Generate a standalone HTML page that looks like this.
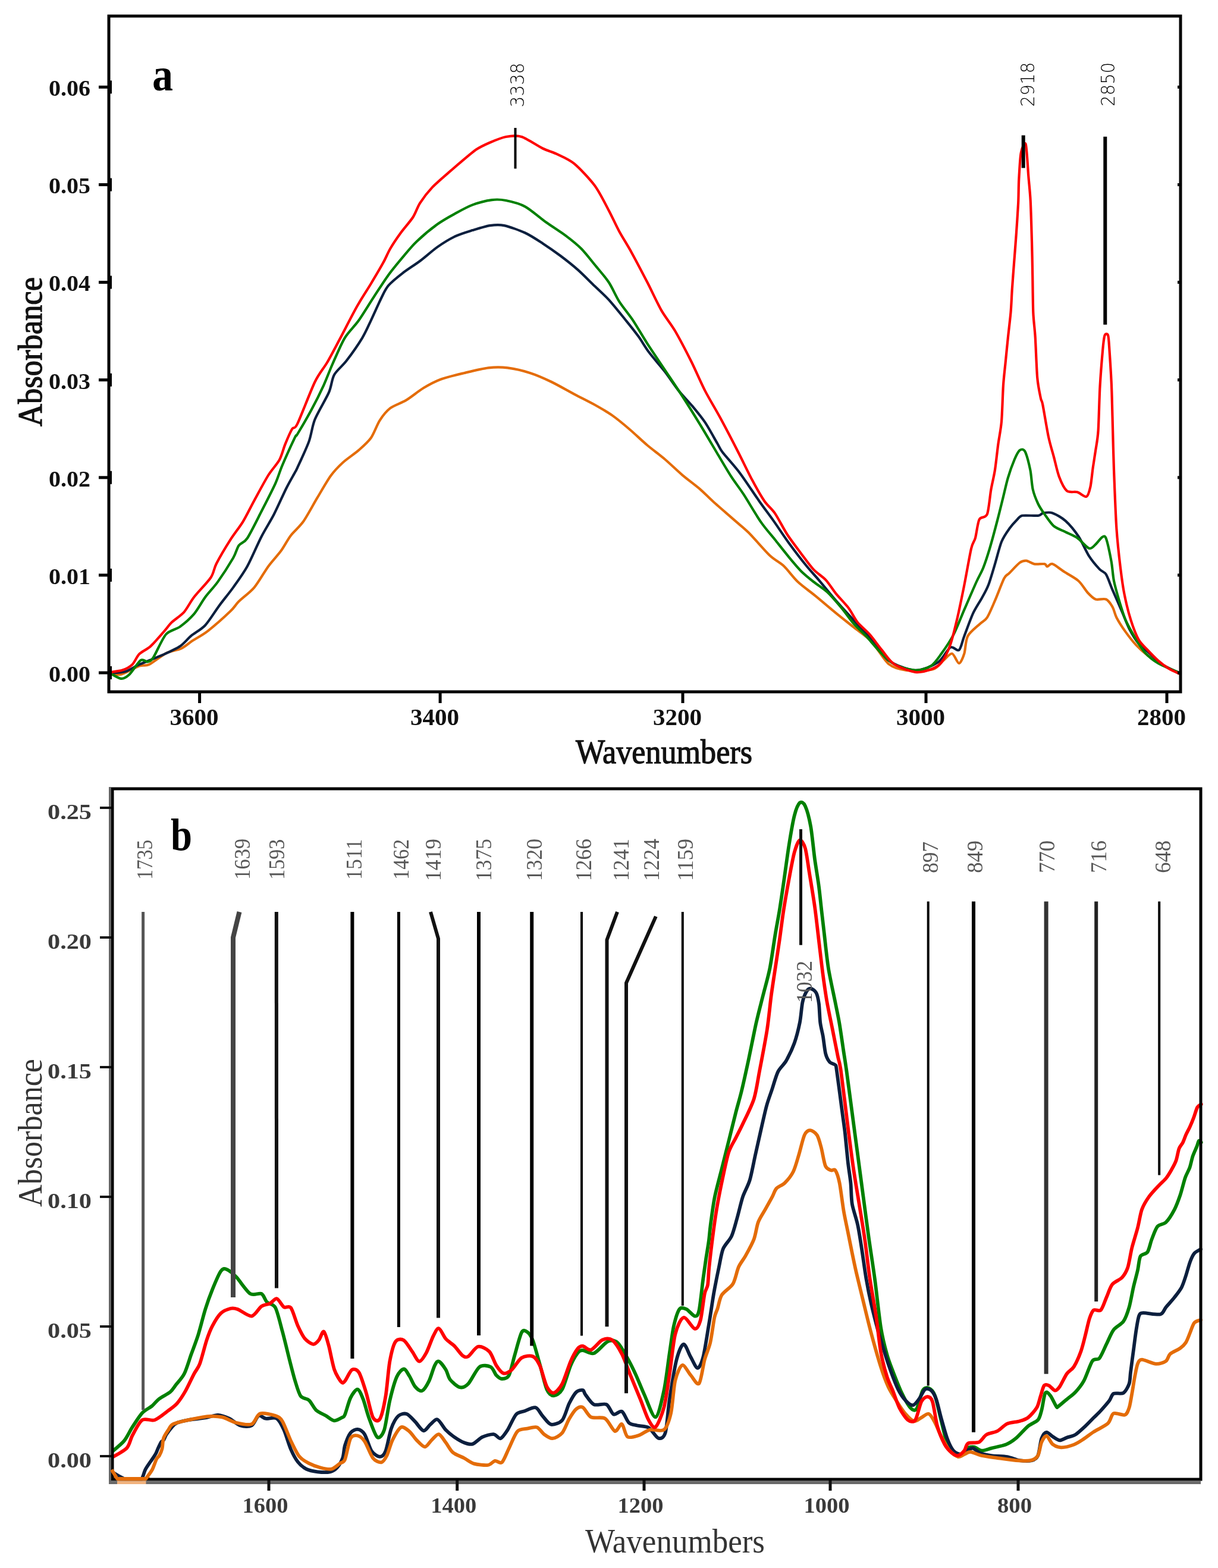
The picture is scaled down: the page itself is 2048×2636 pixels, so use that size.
<!DOCTYPE html><html><head><meta charset="utf-8"><title>FTIR spectra</title><style>html,body{margin:0;padding:0;background:#fff}body{width:2048px;height:2636px;overflow:hidden}svg{display:block}</style></head><body>
<svg width="2048" height="2636" viewBox="0 0 2048 2636">
<rect width="2048" height="2636" fill="#fff"/>
<g id="pa">
<g fill="none" stroke-width="4.2" stroke-linejoin="round" stroke-linecap="round">
<path d="M183.0 1131.0C183.2 1131.1 181.8 1131.0 184.7 1131.4C187.6 1131.8 196.5 1135.4 203.6 1133.7C210.7 1132.0 227.5 1122.0 234.2 1119.6C240.9 1117.2 244.3 1120.2 250.7 1117.2C257.1 1114.2 271.3 1102.2 279.0 1098.3C286.7 1094.4 298.5 1093.1 304.9 1090.1C311.3 1087.1 317.4 1081.3 323.8 1077.1C330.2 1072.9 340.6 1067.7 349.7 1060.6C358.8 1053.5 380.0 1034.7 387.4 1027.6C394.8 1020.5 395.9 1016.8 401.6 1011.1C407.3 1005.4 420.4 996.0 427.5 987.6C434.6 979.2 444.7 961.0 451.1 952.2C457.5 943.4 466.9 933.7 472.3 926.3C477.7 918.9 483.4 907.5 488.8 900.4C494.2 893.3 503.6 885.9 510.0 876.8C516.4 867.7 527.0 847.7 533.6 836.7C540.2 825.7 549.9 808.5 556.0 800.0C562.1 791.5 569.9 783.7 576.6 777.5C583.3 771.3 596.4 762.8 603.1 756.9C609.8 751.0 618.6 743.4 623.7 736.2C628.8 729.0 633.9 713.9 638.5 706.8C643.1 699.7 649.9 691.0 656.2 686.2C662.5 681.4 674.7 677.7 682.7 672.9C690.7 668.1 703.7 657.4 712.1 652.3C720.5 647.2 731.9 641.1 741.6 637.5C751.3 633.9 768.5 629.9 779.9 627.2C791.3 624.5 810.7 619.7 821.2 618.4C831.7 617.1 843.5 617.1 853.6 618.4C863.7 619.7 881.4 623.8 891.9 627.2C902.4 630.6 916.7 636.9 927.2 642.0C937.7 647.1 955.1 657.1 965.5 662.6C975.9 668.1 990.9 675.4 1000.0 680.5C1009.1 685.6 1021.1 692.5 1029.5 698.4C1037.9 704.3 1050.5 714.8 1058.9 722.0C1067.3 729.2 1080.0 741.4 1088.4 748.5C1096.8 755.6 1109.5 764.8 1117.9 772.0C1126.3 779.2 1138.9 791.4 1147.3 798.6C1155.7 805.8 1169.3 815.6 1176.8 822.1C1184.3 828.6 1191.6 836.5 1200.0 844.0C1208.4 851.5 1227.0 867.5 1235.4 874.9C1243.8 882.3 1250.5 887.1 1258.9 895.5C1267.3 903.9 1285.9 925.8 1294.3 933.8C1302.7 941.8 1311.2 945.2 1317.9 951.5C1324.6 957.8 1333.8 970.8 1341.4 978.0C1349.0 985.2 1361.6 994.0 1370.9 1001.6C1380.2 1009.2 1396.9 1023.5 1406.2 1031.1C1415.5 1038.7 1427.3 1047.9 1435.7 1054.6C1444.1 1061.3 1456.8 1069.4 1465.2 1078.2C1473.6 1087.0 1486.2 1109.6 1494.6 1116.5C1503.0 1123.4 1513.6 1125.5 1524.1 1126.8C1534.6 1128.1 1559.5 1127.6 1568.3 1125.3C1577.1 1123.0 1581.4 1114.4 1586.0 1110.6C1590.6 1106.8 1596.9 1098.2 1600.7 1098.8C1604.5 1099.4 1609.6 1115.0 1612.5 1115.0C1615.4 1115.0 1619.2 1105.3 1621.3 1098.8C1623.4 1092.3 1623.4 1076.6 1627.2 1069.4C1631.0 1062.2 1643.1 1053.2 1647.8 1048.7C1652.5 1044.2 1656.2 1043.8 1659.8 1038.2C1663.4 1032.6 1668.9 1019.1 1673.0 1009.7C1677.1 1000.3 1685.0 978.9 1688.4 972.3C1691.8 965.7 1693.3 967.3 1697.1 963.5C1700.9 959.7 1710.6 948.9 1714.7 945.9C1718.8 942.9 1722.2 942.3 1725.7 942.6C1729.2 942.9 1734.5 947.3 1738.9 948.1C1743.3 948.9 1753.4 947.5 1756.5 948.1C1759.6 948.7 1759.0 952.5 1760.9 952.5C1762.8 952.5 1765.6 946.8 1769.7 948.1C1773.8 949.4 1783.2 957.2 1789.5 961.3C1795.8 965.4 1808.0 971.7 1813.6 976.7C1819.2 981.7 1824.9 992.1 1829.0 996.5C1833.1 1000.9 1837.8 1005.9 1842.2 1007.5C1846.6 1009.1 1855.7 1005.6 1859.8 1007.5C1863.9 1009.4 1868.3 1016.3 1870.8 1020.7C1873.3 1025.1 1874.3 1032.2 1877.4 1038.2C1880.5 1044.2 1888.0 1055.8 1892.7 1062.4C1897.4 1069.0 1905.0 1078.7 1910.3 1084.4C1915.6 1090.1 1923.2 1097.0 1930.1 1102.0C1937.0 1107.0 1951.0 1115.2 1958.7 1119.6C1966.4 1124.0 1980.4 1130.8 1984.0 1132.7" stroke="#e46c08"/>
<path d="M183.0 1131.0C183.2 1131.1 180.8 1131.7 184.7 1131.4C188.6 1131.1 203.5 1131.0 210.6 1129.0C217.7 1127.0 225.1 1121.2 234.2 1117.2C243.3 1113.2 264.5 1105.1 274.3 1100.7C284.1 1096.3 295.9 1091.1 302.6 1086.6C309.3 1082.1 315.3 1074.0 321.4 1068.9C327.5 1063.8 338.3 1058.4 345.0 1051.2C351.7 1044.0 361.9 1027.3 368.6 1018.2C375.3 1009.1 385.4 997.0 392.1 987.6C398.8 978.2 409.0 964.3 415.7 952.2C422.4 940.1 432.9 915.2 439.3 902.7C445.7 890.2 454.4 876.8 460.5 865.0C466.6 853.2 476.6 830.3 481.7 820.2C486.8 810.1 493.3 799.1 495.9 794.3C498.5 789.5 496.6 793.7 500.0 786.3C503.4 778.9 515.2 754.0 519.4 742.4C523.6 730.8 524.7 716.8 529.5 705.0C534.3 693.2 548.4 670.3 553.0 659.6C557.6 648.9 557.7 637.8 561.9 630.2C566.1 622.6 575.8 615.4 582.5 606.6C589.2 597.8 603.1 578.0 609.0 568.3C614.9 558.6 619.1 548.5 623.7 538.8C628.3 529.1 637.2 508.9 641.4 500.5C645.6 492.1 648.1 485.8 653.2 479.9C658.3 474.0 669.2 465.2 676.8 459.3C684.4 453.4 697.8 445.0 706.2 438.7C714.6 432.4 727.3 421.0 735.7 415.1C744.1 409.2 756.8 401.4 765.2 397.4C773.6 393.4 786.2 389.7 794.6 387.1C803.0 384.5 816.5 380.2 824.1 379.1C831.7 378.0 839.3 377.3 847.7 379.1C856.1 380.9 873.7 387.2 883.0 391.5C892.3 395.8 904.1 403.7 912.5 409.2C920.9 414.7 933.6 423.5 942.0 429.8C950.4 436.1 963.1 446.1 971.4 453.4C979.7 460.7 992.5 473.8 1000.0 481.0C1007.5 488.2 1016.0 495.6 1023.6 503.9C1031.2 512.2 1045.8 530.5 1053.0 539.3C1060.2 548.1 1068.2 558.2 1073.7 565.8C1079.2 573.4 1085.0 583.9 1091.3 592.3C1097.6 600.7 1110.7 615.4 1117.9 624.7C1125.1 634.0 1134.7 648.7 1141.4 657.1C1148.1 665.5 1158.7 676.1 1165.0 683.7C1171.3 691.3 1179.7 701.4 1185.6 710.2C1191.5 719.0 1202.0 738.4 1206.2 745.5C1210.4 752.6 1209.3 752.9 1214.7 760.0C1220.1 767.1 1235.4 783.6 1244.2 795.4C1253.0 807.2 1268.6 831.1 1276.6 842.5C1284.6 853.9 1293.0 864.8 1300.2 874.9C1307.4 885.0 1318.7 902.3 1326.7 913.2C1334.7 924.1 1349.0 942.7 1356.2 951.5C1363.4 960.3 1369.7 966.7 1376.8 975.1C1383.9 983.5 1397.8 1000.7 1406.2 1010.4C1414.6 1020.1 1427.3 1033.6 1435.7 1042.9C1444.1 1052.2 1456.8 1065.6 1465.2 1075.3C1473.6 1085.0 1484.1 1103.2 1494.6 1110.6C1505.1 1118.0 1527.0 1126.4 1538.8 1126.8C1550.6 1127.2 1568.7 1119.1 1577.1 1113.6C1585.5 1108.1 1592.7 1091.5 1597.8 1088.5C1602.9 1085.5 1609.1 1095.6 1612.5 1092.9C1615.9 1090.2 1617.9 1078.2 1621.3 1069.4C1624.7 1060.6 1631.9 1040.3 1636.1 1031.1C1640.3 1021.9 1647.3 1012.1 1651.0 1005.3C1654.7 998.5 1658.9 991.5 1662.0 983.3C1665.1 975.1 1669.9 958.5 1673.0 948.1C1676.1 937.7 1680.6 919.3 1684.0 910.8C1687.4 902.3 1693.3 894.1 1697.1 888.8C1700.9 883.5 1707.2 876.5 1710.3 873.4C1713.4 870.3 1714.1 867.7 1719.1 866.8C1724.1 865.9 1740.5 867.4 1745.5 866.8C1750.5 866.2 1750.8 863.0 1754.3 862.4C1757.8 861.8 1764.4 860.5 1769.7 862.4C1775.0 864.3 1785.3 869.9 1791.6 875.6C1797.9 881.3 1807.9 893.5 1813.6 902.0C1819.3 910.5 1826.2 927.1 1831.2 934.9C1836.2 942.7 1844.7 952.5 1848.8 956.9C1852.9 961.3 1856.7 960.7 1859.8 965.7C1862.9 970.7 1867.0 983.3 1870.8 992.1C1874.6 1000.9 1882.1 1017.9 1886.2 1027.3C1890.3 1036.7 1895.2 1050.2 1899.3 1058.0C1903.4 1065.8 1910.0 1076.5 1914.7 1082.2C1919.4 1087.9 1926.6 1092.6 1932.3 1097.6C1938.0 1102.6 1946.9 1112.6 1954.3 1117.4C1961.7 1122.2 1979.8 1129.5 1984.0 1131.5" stroke="#0c1f3e"/>
<path d="M183.0 1131.0C183.2 1131.1 181.8 1130.0 184.7 1131.4C187.6 1132.8 198.9 1140.5 203.6 1140.8C208.3 1141.1 213.0 1138.1 217.7 1133.7C222.4 1129.3 232.2 1113.1 236.6 1110.1C241.0 1107.1 245.4 1113.2 248.4 1112.5C251.4 1111.8 253.4 1112.0 257.8 1105.4C262.2 1098.8 272.6 1073.9 279.0 1066.5C285.4 1059.1 295.9 1058.5 302.6 1053.6C309.3 1048.7 320.0 1039.5 326.1 1032.4C332.2 1025.3 339.3 1011.8 345.0 1004.0C350.7 996.2 359.5 987.5 366.2 978.1C372.9 968.7 387.0 946.7 392.1 938.0C397.2 929.3 398.2 921.6 401.6 916.9C405.0 912.2 410.3 913.1 415.7 905.0C421.1 896.9 432.6 873.4 439.3 860.3C446.0 847.2 457.9 824.2 462.9 813.1C467.9 802.0 469.9 793.6 474.6 782.5C479.3 771.4 492.3 742.9 495.9 735.4C499.5 727.9 496.0 736.6 500.0 730.0C504.0 723.4 517.3 700.8 523.6 689.1C529.9 677.4 539.2 658.7 544.2 647.8C549.2 636.9 553.8 623.9 558.9 612.5C564.0 601.1 573.3 578.8 579.6 568.3C585.9 557.8 596.0 548.9 603.1 538.8C610.2 528.7 622.4 508.5 629.6 497.6C636.8 486.7 646.5 471.5 653.2 462.2C659.9 452.9 670.1 440.8 676.8 432.8C683.5 424.8 692.0 414.2 700.4 406.2C708.8 398.2 726.4 383.5 735.7 376.8C745.0 370.1 756.8 363.7 765.2 359.1C773.6 354.5 785.8 347.7 794.6 344.4C803.4 341.1 819.0 337.2 827.0 336.1C835.0 335.0 842.6 335.4 850.6 337.0C858.6 338.6 873.3 342.0 883.0 347.3C892.7 352.6 908.7 366.9 918.4 373.8C928.1 380.7 942.4 389.6 950.8 395.9C959.2 402.2 970.3 411.0 977.3 418.0C984.3 425.0 993.4 436.9 1000.0 445.0C1006.6 453.1 1017.7 465.7 1023.6 474.5C1029.5 483.3 1035.3 497.6 1041.2 506.9C1047.1 516.2 1058.1 529.2 1064.8 539.3C1071.5 549.4 1080.8 565.8 1088.4 577.6C1096.0 589.4 1109.5 609.2 1117.9 621.8C1126.3 634.4 1138.9 653.0 1147.3 666.0C1155.7 679.0 1168.4 699.4 1176.8 713.1C1185.2 726.8 1198.4 749.4 1205.9 762.0C1213.4 774.6 1223.2 791.4 1229.5 801.2C1235.8 811.0 1242.9 819.7 1250.1 830.7C1257.3 841.7 1272.0 867.0 1279.6 877.9C1287.2 888.8 1296.4 898.9 1303.1 907.3C1309.8 915.7 1320.4 929.2 1326.7 936.8C1333.0 944.4 1341.4 954.5 1347.3 960.4C1353.2 966.3 1361.6 973.0 1367.9 978.0C1374.2 983.0 1384.8 989.4 1391.5 995.7C1398.2 1002.0 1408.8 1014.6 1415.1 1022.2C1421.4 1029.8 1429.8 1042.0 1435.7 1048.7C1441.6 1055.4 1450.0 1062.7 1456.3 1069.4C1462.6 1076.1 1473.2 1089.2 1479.9 1095.9C1486.6 1102.6 1495.1 1112.1 1503.5 1116.5C1511.9 1120.9 1530.0 1126.4 1538.8 1126.8C1547.6 1127.2 1559.0 1123.5 1565.3 1119.5C1571.6 1115.5 1577.5 1106.4 1583.0 1098.8C1588.5 1091.2 1598.1 1076.9 1603.6 1066.4C1609.1 1055.9 1615.8 1037.8 1621.3 1025.2C1626.8 1012.6 1637.3 988.1 1641.9 978.0C1646.5 967.9 1650.0 962.7 1653.2 954.7C1656.4 946.7 1660.7 933.4 1664.2 921.8C1667.7 910.2 1674.3 885.3 1677.4 873.4C1680.5 861.5 1683.7 848.2 1686.2 838.2C1688.7 828.2 1692.1 812.5 1694.9 803.1C1697.7 793.7 1703.1 778.9 1705.9 772.3C1708.7 765.7 1712.2 758.8 1714.7 756.9C1717.2 755.0 1721.0 754.4 1723.5 759.1C1726.0 763.8 1730.4 780.8 1732.3 789.9C1734.2 799.0 1734.8 814.7 1736.7 822.9C1738.6 831.1 1742.7 841.0 1745.5 847.0C1748.3 853.0 1752.7 859.3 1756.5 864.6C1760.3 869.9 1766.9 880.2 1771.9 884.4C1776.9 888.6 1786.0 891.5 1791.6 894.3C1797.2 897.1 1805.7 900.3 1811.4 904.2C1817.1 908.1 1826.8 920.2 1831.2 921.8C1835.6 923.4 1839.1 917.9 1842.2 915.2C1845.3 912.5 1850.7 904.5 1853.2 903.1C1855.7 901.7 1857.6 899.5 1859.8 905.3C1862.0 911.1 1866.7 933.5 1868.6 943.7C1870.5 953.9 1871.1 967.3 1873.0 976.7C1874.9 986.1 1879.0 1000.3 1881.8 1009.7C1884.6 1019.1 1888.9 1033.8 1892.7 1042.6C1896.5 1051.4 1903.4 1063.3 1908.1 1071.2C1912.8 1079.1 1920.0 1091.3 1925.7 1097.6C1931.4 1103.9 1939.4 1110.4 1947.7 1115.2C1956.0 1120.0 1978.8 1129.2 1984.0 1131.5" stroke="#008000"/>
<path d="M183.0 1131.0C183.2 1130.9 181.4 1130.8 184.7 1130.2C188.0 1129.6 200.6 1128.5 206.0 1126.6C211.4 1124.7 218.4 1121.1 222.4 1117.2C226.4 1113.3 229.8 1103.9 234.2 1099.5C238.6 1095.1 246.9 1092.2 253.0 1086.6C259.1 1081.0 271.5 1066.3 276.6 1060.6C281.7 1054.9 283.7 1051.0 288.4 1046.5C293.1 1042.0 304.2 1034.9 309.6 1028.8C315.0 1022.7 319.7 1012.3 326.1 1004.0C332.5 995.7 349.0 979.1 354.4 971.0C359.8 962.9 359.2 956.6 363.9 947.5C368.6 938.4 381.0 917.5 387.4 907.4C393.8 897.3 402.9 886.2 408.6 876.8C414.3 867.4 421.4 852.5 427.5 841.4C433.6 830.3 445.0 808.8 451.1 799.0C457.2 789.2 465.9 780.4 469.9 773.0C473.9 765.6 476.4 754.5 479.4 747.1C482.4 739.7 488.2 726.1 491.1 721.2C494.0 716.3 494.5 724.0 500.0 712.7C505.5 701.4 522.4 656.7 529.5 642.0C536.6 627.3 544.1 619.6 550.0 609.5C555.9 599.4 563.5 584.7 570.7 571.2C577.9 557.7 592.6 528.8 600.2 515.3C607.8 501.8 617.4 487.5 623.7 477.0C630.0 466.5 639.8 450.0 644.4 441.6C649.0 433.2 652.0 425.2 656.2 418.0C660.4 410.8 668.3 399.1 673.8 391.5C679.3 383.9 689.9 372.2 694.5 365.0C699.1 357.8 701.6 348.6 706.2 341.4C710.8 334.2 719.7 322.5 726.9 314.9C734.1 307.3 749.1 294.7 756.3 288.4C763.5 282.1 770.7 276.0 777.0 270.7C783.3 265.4 793.8 256.1 800.5 251.6C807.2 247.1 816.9 242.6 824.1 239.5C831.3 236.4 843.0 231.4 850.6 230.0C858.2 228.6 868.3 227.2 877.1 230.0C885.9 232.8 904.1 245.4 912.5 249.5C920.9 253.6 928.5 255.2 936.1 258.9C943.7 262.6 956.4 267.5 965.5 275.1C974.6 282.7 991.7 300.8 1000.0 312.0C1008.3 323.2 1017.7 342.7 1023.6 353.7C1029.5 364.7 1035.7 378.9 1041.2 389.0C1046.7 399.1 1055.2 412.2 1061.9 424.4C1068.6 436.6 1081.2 460.6 1088.4 474.5C1095.6 488.4 1105.3 509.8 1112.0 521.6C1118.7 533.4 1128.4 544.8 1135.5 557.0C1142.6 569.2 1154.8 592.7 1162.0 607.0C1169.2 621.3 1178.4 643.2 1185.6 657.1C1192.8 671.0 1204.2 689.6 1212.1 704.3C1220.0 719.0 1233.7 745.3 1241.2 760.0C1248.7 774.7 1258.5 795.3 1264.8 807.1C1271.1 818.9 1279.9 834.5 1285.4 842.5C1290.9 850.5 1297.6 855.1 1303.1 863.1C1308.6 871.1 1317.4 888.8 1323.7 898.5C1330.0 908.2 1341.0 922.5 1347.3 930.9C1353.6 939.3 1362.0 951.1 1367.9 957.4C1373.8 963.7 1383.1 969.2 1388.6 975.1C1394.1 981.0 1400.7 992.0 1406.2 998.7C1411.7 1005.4 1421.8 1015.5 1426.9 1022.2C1432.0 1028.9 1436.6 1039.5 1441.6 1045.8C1446.6 1052.1 1456.3 1059.7 1462.2 1066.4C1468.1 1073.1 1477.0 1085.7 1482.9 1092.9C1488.8 1100.1 1495.5 1111.2 1503.5 1116.5C1511.5 1121.8 1530.0 1128.5 1538.8 1129.8C1547.6 1131.1 1559.0 1127.6 1565.3 1125.3C1571.6 1123.0 1578.4 1119.5 1583.0 1113.6C1587.6 1107.7 1594.0 1094.6 1597.8 1084.1C1601.6 1073.6 1606.1 1054.2 1609.5 1039.9C1612.9 1025.6 1617.9 1000.7 1621.3 983.9C1624.7 967.1 1630.4 933.4 1633.1 922.0C1635.8 910.6 1638.1 911.1 1640.0 904.2C1641.9 897.3 1643.8 879.1 1646.6 873.4C1649.4 867.7 1657.0 871.8 1659.8 864.6C1662.6 857.4 1664.5 833.6 1666.4 822.9C1668.3 812.2 1671.3 800.9 1673.0 789.9C1674.7 778.9 1676.9 757.5 1678.5 745.9C1680.1 734.3 1682.8 722.5 1684.0 708.6C1685.2 694.7 1686.0 662.5 1686.9 648.7C1687.8 634.9 1689.2 623.8 1690.4 612.0C1691.6 600.2 1693.7 578.7 1695.0 566.3C1696.3 553.9 1698.5 536.5 1699.5 525.1C1700.5 513.7 1701.0 498.3 1701.8 486.2C1702.6 474.1 1704.2 453.5 1705.2 440.4C1706.2 427.3 1707.7 408.7 1708.7 394.6C1709.7 380.5 1711.4 355.3 1712.1 341.9C1712.8 328.5 1712.6 312.8 1713.3 300.7C1714.0 288.6 1715.1 265.5 1716.7 257.2C1718.3 248.9 1722.9 236.8 1724.7 242.4C1726.5 248.0 1728.2 282.6 1729.3 296.2C1730.4 309.8 1731.9 321.7 1732.7 337.4C1733.5 353.1 1734.5 388.0 1735.0 406.0C1735.5 424.0 1735.9 446.3 1736.2 463.3C1736.5 480.3 1736.7 510.4 1737.3 525.1C1737.9 539.8 1739.7 550.6 1740.7 566.3C1741.7 582.0 1742.9 620.3 1744.2 635.0C1745.5 649.7 1748.6 662.9 1749.9 669.3C1751.2 675.7 1751.3 670.6 1753.2 680.0C1755.1 689.4 1760.4 722.3 1763.1 734.9C1765.8 747.5 1769.4 758.5 1771.9 767.9C1774.4 777.3 1777.6 792.7 1780.7 800.9C1783.8 809.1 1789.4 821.3 1793.8 825.1C1798.2 828.9 1806.7 825.9 1811.4 827.3C1816.1 828.7 1823.7 836.2 1826.8 834.9C1829.9 833.6 1831.8 825.6 1833.4 818.5C1835.0 811.4 1836.5 794.3 1837.8 785.5C1839.1 776.7 1840.9 765.7 1842.2 756.9C1843.5 748.1 1845.6 739.3 1846.6 724.0C1847.6 708.7 1848.4 669.3 1849.5 650.0C1850.6 630.7 1853.0 601.5 1854.1 589.2C1855.2 576.9 1856.2 567.6 1857.5 564.0C1858.8 560.4 1862.1 560.4 1863.2 564.0C1864.3 567.6 1864.7 577.4 1865.5 589.2C1866.3 601.0 1868.2 630.6 1868.9 646.4C1869.6 662.2 1869.9 679.5 1870.5 700.0C1871.1 720.5 1872.0 762.9 1873.0 789.9C1874.0 816.9 1875.8 865.3 1877.4 888.8C1879.0 912.3 1882.1 939.0 1884.0 954.7C1885.9 970.4 1888.0 986.1 1890.5 998.7C1893.0 1011.3 1898.0 1031.6 1901.5 1042.6C1905.0 1053.6 1910.6 1068.4 1914.7 1075.6C1918.8 1082.8 1925.4 1088.2 1930.1 1093.2C1934.8 1098.2 1942.7 1106.4 1947.7 1110.8C1952.7 1115.2 1960.1 1120.8 1965.3 1124.0C1970.5 1127.2 1981.3 1131.7 1984.0 1133.0" stroke="#ff0000"/>
</g>
<rect x="183" y="27" width="1802" height="1136" fill="none" stroke="#000" stroke-width="5"/>
<g stroke="#000" stroke-width="5">
<line x1="166" y1="1131.0" x2="184" y2="1131.0"/>
<line x1="1980" y1="1131.0" x2="1985" y2="1131.0"/>
<rect x="183" y="1120.0" width="5" height="22" stroke="none" fill="#000"/>
<line x1="166" y1="966.9" x2="184" y2="966.9"/>
<line x1="1980" y1="966.9" x2="1985" y2="966.9"/>
<rect x="183" y="955.9" width="5" height="22" stroke="none" fill="#000"/>
<line x1="166" y1="802.8" x2="184" y2="802.8"/>
<line x1="1980" y1="802.8" x2="1985" y2="802.8"/>
<rect x="183" y="791.8" width="5" height="22" stroke="none" fill="#000"/>
<line x1="166" y1="638.7" x2="184" y2="638.7"/>
<line x1="1980" y1="638.7" x2="1985" y2="638.7"/>
<rect x="183" y="627.7" width="5" height="22" stroke="none" fill="#000"/>
<line x1="166" y1="474.6" x2="184" y2="474.6"/>
<line x1="1980" y1="474.6" x2="1985" y2="474.6"/>
<rect x="183" y="463.6" width="5" height="22" stroke="none" fill="#000"/>
<line x1="166" y1="310.5" x2="184" y2="310.5"/>
<line x1="1980" y1="310.5" x2="1985" y2="310.5"/>
<rect x="183" y="299.5" width="5" height="22" stroke="none" fill="#000"/>
<line x1="166" y1="146.4" x2="184" y2="146.4"/>
<line x1="1980" y1="146.4" x2="1985" y2="146.4"/>
<rect x="183" y="135.4" width="5" height="22" stroke="none" fill="#000"/>
<line x1="335.6" y1="1163" x2="335.6" y2="1182"/>
<line x1="740.1" y1="1163" x2="740.1" y2="1182"/>
<line x1="1148.0" y1="1163" x2="1148.0" y2="1182"/>
<line x1="1557.0" y1="1163" x2="1557.0" y2="1182"/>
<line x1="1962.0" y1="1163" x2="1962.0" y2="1182"/>
</g>
<g font-family="Liberation Serif, serif" font-weight="bold" font-size="37" fill="#111">
<text x="152" y="1145.8" text-anchor="end" textLength="70" lengthAdjust="spacingAndGlyphs">0.00</text>
<text x="152" y="981.7" text-anchor="end" textLength="70" lengthAdjust="spacingAndGlyphs">0.01</text>
<text x="152" y="817.6" text-anchor="end" textLength="70" lengthAdjust="spacingAndGlyphs">0.02</text>
<text x="152" y="653.5" text-anchor="end" textLength="70" lengthAdjust="spacingAndGlyphs">0.03</text>
<text x="152" y="489.4" text-anchor="end" textLength="70" lengthAdjust="spacingAndGlyphs">0.04</text>
<text x="152" y="325.3" text-anchor="end" textLength="70" lengthAdjust="spacingAndGlyphs">0.05</text>
<text x="152" y="161.2" text-anchor="end" textLength="70" lengthAdjust="spacingAndGlyphs">0.06</text>
<text x="285.6" y="1219.2" font-size="40" textLength="82" lengthAdjust="spacingAndGlyphs">3600</text>
<text x="690.1" y="1219.2" font-size="40" textLength="82" lengthAdjust="spacingAndGlyphs">3400</text>
<text x="1098.0" y="1219.2" font-size="40" textLength="82" lengthAdjust="spacingAndGlyphs">3200</text>
<text x="1507.0" y="1219.2" font-size="40" textLength="82" lengthAdjust="spacingAndGlyphs">3000</text>
<text x="1912.0" y="1219.2" font-size="40" textLength="82" lengthAdjust="spacingAndGlyphs">2800</text>
</g>
<text x="968" y="1283" font-family="Liberation Serif, serif" font-size="57" textLength="297" lengthAdjust="spacingAndGlyphs" fill="#111" stroke="#111" stroke-width="1.3">Wavenumbers</text>
<text transform="translate(70 717) rotate(-90)" font-family="Liberation Serif, serif" font-size="58" textLength="251" lengthAdjust="spacingAndGlyphs" fill="#111" stroke="#111" stroke-width="1.3">Absorbance</text>
<text x="256" y="152" font-family="Liberation Serif, serif" font-weight="bold" font-size="78" textLength="35" lengthAdjust="spacingAndGlyphs" fill="#000">a</text>
<g font-family="DejaVu Sans, sans-serif" font-weight="200" font-size="31.5" fill="#000">
<text transform="translate(881.0 180.5) rotate(-90)" textLength="75" lengthAdjust="spacingAndGlyphs">3338</text>
<text transform="translate(1738.5 179.5) rotate(-90)" textLength="75" lengthAdjust="spacingAndGlyphs">2918</text>
<text transform="translate(1873.5 178.8) rotate(-90)" textLength="74" lengthAdjust="spacingAndGlyphs">2850</text>
</g>
<g stroke="#000">
<line x1="866.5" y1="215" x2="866.5" y2="283.5" stroke-width="4"/>
<line x1="1720.7" y1="227.5" x2="1720.7" y2="282.4" stroke-width="6"/>
<line x1="1858.3" y1="229.8" x2="1858.3" y2="545.7" stroke-width="6"/>
</g>
</g>
<g id="pb">
<g fill="none" stroke-width="5.8" stroke-linejoin="round" stroke-linecap="round">
<path d="M187.4 2441.3C190.4 2438.6 203.6 2428.5 208.6 2422.4C213.6 2416.3 218.3 2405.6 222.7 2398.9C227.1 2392.2 234.5 2380.4 239.2 2375.3C243.9 2370.2 251.7 2366.9 255.7 2363.5C259.7 2360.1 263.1 2355.1 267.5 2351.7C271.9 2348.3 282.4 2343.3 286.4 2339.9C290.4 2336.5 292.4 2332.5 295.8 2328.1C299.2 2323.7 306.2 2316.7 309.9 2309.3C313.6 2301.9 318.3 2285.7 321.7 2276.3C325.1 2266.9 330.1 2254.1 333.5 2243.3C336.9 2232.5 341.9 2211.7 345.3 2200.9C348.7 2190.1 353.4 2177.0 357.1 2167.9C360.8 2158.8 367.8 2142.1 371.2 2137.2C374.6 2132.3 376.9 2132.4 380.6 2133.7C384.3 2135.0 391.4 2140.7 397.1 2146.6C402.8 2152.5 414.6 2170.9 420.7 2174.9C426.8 2178.9 435.6 2172.9 439.6 2174.9C443.6 2176.9 445.6 2185.7 449.0 2189.1C452.4 2192.5 459.4 2191.4 463.1 2198.5C466.8 2205.6 471.5 2226.1 474.9 2238.6C478.3 2251.1 483.7 2273.9 486.7 2285.7C489.7 2297.5 493.4 2312.3 496.1 2321.1C498.8 2329.9 502.2 2342.3 505.6 2347.0C509.0 2351.7 516.0 2350.7 519.7 2354.1C523.4 2357.5 527.5 2366.9 531.5 2370.6C535.5 2374.3 543.6 2377.5 548.0 2380.0C552.4 2382.5 558.1 2388.0 562.1 2388.3C566.1 2388.6 573.7 2383.9 576.3 2382.4C578.9 2380.9 578.1 2382.7 580.0 2378.1C581.9 2373.5 586.4 2356.0 589.4 2349.9C592.4 2343.8 598.2 2335.4 601.2 2335.7C604.2 2336.0 607.9 2345.5 610.6 2352.2C613.3 2358.9 616.7 2373.8 620.1 2382.9C623.5 2392.0 630.5 2412.9 634.2 2415.9C637.9 2418.9 643.0 2412.9 646.0 2404.1C649.0 2395.3 652.4 2367.4 655.4 2354.6C658.4 2341.8 663.8 2322.1 667.2 2314.5C670.6 2306.9 676.0 2301.7 679.0 2301.5C682.0 2301.3 685.7 2309.1 688.4 2313.3C691.1 2317.5 694.9 2327.5 697.9 2331.0C700.9 2334.5 706.2 2339.4 709.6 2338.1C713.0 2336.8 718.4 2327.7 721.4 2321.6C724.4 2315.5 728.5 2300.3 730.9 2295.6C733.3 2290.9 735.2 2287.6 737.9 2288.6C740.6 2289.6 747.0 2298.3 749.7 2302.7C752.4 2307.1 753.4 2315.0 756.8 2319.2C760.2 2323.4 768.9 2331.2 773.3 2332.2C777.7 2333.2 782.7 2331.2 787.4 2326.3C792.1 2321.4 800.9 2302.0 806.3 2298.0C811.7 2294.0 821.1 2296.0 825.1 2298.0C829.1 2300.0 831.9 2309.2 834.6 2312.1C837.3 2315.0 841.0 2318.0 844.0 2318.0C847.0 2318.0 852.8 2317.7 855.8 2312.1C858.8 2306.5 862.2 2289.4 865.2 2279.1C868.2 2268.8 874.0 2245.9 877.0 2240.2C880.0 2234.5 883.7 2237.2 886.4 2239.1C889.1 2241.0 892.9 2245.5 895.9 2253.2C898.9 2260.9 904.2 2281.5 907.6 2293.3C911.0 2305.1 916.0 2328.1 919.4 2335.7C922.8 2343.3 927.5 2346.3 931.2 2346.3C934.9 2346.3 941.3 2342.9 945.3 2335.7C949.3 2328.5 955.8 2304.4 959.5 2295.6C963.2 2286.8 968.4 2278.1 971.3 2274.4C974.2 2270.7 976.1 2269.9 980.0 2270.0C983.9 2270.1 992.6 2277.2 998.6 2275.1C1004.6 2273.0 1016.4 2257.6 1022.1 2255.1C1027.8 2252.6 1033.9 2253.4 1038.6 2257.4C1043.3 2261.4 1050.7 2275.7 1055.1 2283.4C1059.5 2291.1 1065.3 2302.9 1069.3 2311.6C1073.3 2320.3 1078.7 2334.5 1083.4 2344.6C1088.1 2354.7 1097.6 2383.4 1102.3 2382.4C1107.0 2381.4 1113.0 2353.1 1116.4 2337.6C1119.8 2322.1 1123.5 2289.4 1125.9 2273.9C1128.3 2258.4 1130.5 2239.5 1132.9 2229.1C1135.3 2218.7 1139.4 2204.9 1142.4 2200.9C1145.4 2196.9 1150.4 2199.2 1154.1 2200.9C1157.8 2202.6 1165.3 2212.3 1168.3 2212.6C1171.3 2212.9 1173.4 2212.3 1175.4 2203.2C1177.4 2194.1 1180.7 2161.5 1182.4 2149.0C1184.1 2136.5 1185.7 2125.1 1187.1 2116.0C1188.5 2106.9 1190.8 2093.5 1191.9 2085.4C1193.0 2077.3 1193.3 2069.8 1194.7 2059.3C1196.1 2048.8 1199.1 2025.6 1201.8 2012.1C1204.5 1998.6 1210.2 1978.5 1213.6 1965.0C1217.0 1951.5 1222.0 1931.4 1225.4 1917.9C1228.8 1904.4 1234.1 1882.5 1237.1 1870.7C1240.1 1858.9 1243.6 1847.6 1246.6 1835.4C1249.6 1823.2 1254.2 1802.2 1257.8 1785.6C1261.4 1769.0 1268.0 1735.2 1271.6 1719.2C1275.2 1703.2 1279.7 1686.5 1283.0 1673.4C1286.3 1660.3 1291.6 1642.3 1294.5 1627.6C1297.4 1612.9 1301.3 1584.1 1303.6 1570.4C1305.9 1556.7 1308.5 1543.6 1310.5 1531.5C1312.5 1519.4 1315.1 1501.4 1317.4 1485.7C1319.7 1470.0 1323.9 1438.0 1326.5 1421.6C1329.1 1405.2 1333.1 1381.5 1335.7 1371.2C1338.3 1360.9 1342.2 1351.8 1344.8 1349.5C1347.4 1347.2 1351.4 1349.5 1354.0 1355.2C1356.6 1360.9 1360.9 1376.7 1363.2 1389.5C1365.5 1402.3 1368.0 1430.1 1370.0 1444.5C1372.0 1458.9 1375.3 1477.9 1376.9 1490.3C1378.5 1502.7 1380.2 1520.1 1381.5 1531.5C1382.8 1542.9 1384.4 1556.7 1386.0 1570.4C1387.6 1584.1 1390.3 1611.3 1392.9 1627.6C1395.5 1643.9 1401.8 1671.7 1404.4 1684.8C1407.0 1697.9 1409.2 1707.7 1411.2 1719.2C1413.2 1730.7 1416.4 1753.5 1418.1 1765.0C1419.8 1776.5 1421.3 1784.9 1423.4 1800.0C1425.5 1815.1 1430.1 1850.5 1432.8 1870.7C1435.5 1890.9 1439.5 1921.2 1442.2 1941.4C1444.9 1961.6 1448.9 1991.9 1451.6 2012.1C1454.3 2032.3 1458.3 2063.2 1461.1 2082.9C1463.9 2102.6 1468.0 2128.6 1470.9 2150.0C1473.8 2171.4 1478.2 2214.2 1481.2 2232.5C1484.2 2250.8 1488.6 2267.3 1491.6 2277.9C1494.6 2288.5 1498.4 2297.6 1501.9 2306.7C1505.4 2315.8 1512.2 2333.2 1516.3 2341.8C1520.4 2350.4 1527.2 2362.8 1530.7 2366.6C1534.2 2370.4 1538.1 2372.7 1541.1 2368.6C1544.1 2364.5 1548.5 2342.7 1551.4 2337.7C1554.3 2332.7 1558.8 2332.4 1561.7 2333.6C1564.6 2334.8 1569.1 2338.2 1572.0 2345.9C1574.9 2353.6 1579.4 2375.7 1582.3 2387.2C1585.2 2398.7 1589.4 2418.4 1592.6 2426.4C1595.8 2434.4 1601.5 2440.3 1605.0 2442.9C1608.5 2445.5 1614.5 2446.1 1617.4 2444.9C1620.3 2443.7 1622.7 2436.4 1625.6 2434.6C1628.5 2432.8 1634.5 2432.0 1638.0 2432.6C1641.5 2433.2 1646.3 2438.4 1650.4 2438.7C1654.5 2439.0 1661.0 2436.1 1666.9 2434.6C1672.8 2433.1 1685.7 2430.8 1691.6 2428.4C1697.5 2426.0 1702.8 2422.5 1708.1 2418.1C1713.4 2413.7 1723.4 2401.9 1728.7 2397.5C1734.0 2393.1 1742.0 2391.0 1745.2 2387.2C1748.4 2383.4 1749.6 2377.2 1751.4 2370.7C1753.2 2364.2 1755.5 2345.3 1757.6 2341.8C1759.7 2338.3 1763.2 2342.7 1765.9 2345.9C1768.6 2349.1 1774.3 2361.9 1776.2 2364.5C1778.1 2367.1 1777.0 2366.0 1779.5 2364.3C1782.0 2362.6 1789.7 2355.8 1793.8 2352.4C1797.9 2349.0 1804.0 2344.9 1808.1 2340.5C1812.2 2336.1 1818.3 2328.9 1822.4 2321.4C1826.5 2313.9 1833.0 2293.5 1836.7 2288.1C1840.4 2282.7 1845.2 2287.4 1848.6 2283.3C1852.0 2279.2 1857.1 2266.3 1860.5 2259.5C1863.9 2252.7 1868.3 2241.1 1872.4 2235.7C1876.5 2230.3 1885.3 2226.8 1889.0 2221.4C1892.7 2216.0 1896.2 2205.8 1898.6 2197.6C1901.0 2189.4 1903.7 2173.1 1905.7 2164.3C1907.7 2155.5 1911.2 2143.2 1912.9 2135.7C1914.6 2128.2 1915.2 2116.3 1917.6 2111.9C1920.0 2107.5 1926.8 2108.9 1929.5 2104.8C1932.2 2100.7 1934.3 2089.4 1936.7 2083.3C1939.1 2077.2 1942.8 2066.0 1946.2 2061.9C1949.6 2057.8 1956.4 2058.9 1960.5 2054.8C1964.6 2050.7 1971.4 2039.8 1974.8 2033.3C1978.2 2026.8 1981.7 2017.1 1984.3 2009.5C1986.9 2001.9 1990.5 1986.7 1992.8 1980.0C1995.1 1973.3 1998.7 1968.0 2000.5 1962.8C2002.3 1957.6 2003.9 1948.5 2005.6 1943.6C2007.3 1938.7 2010.6 1931.9 2012.1 1928.2C2013.6 1924.5 2014.8 1919.0 2015.9 1917.9C2017.0 1916.8 2019.2 1920.1 2019.7 1920.5" stroke="#008000"/>
<path d="M187.4 2474.0C189.1 2475.0 196.8 2479.7 199.5 2481.3C202.2 2482.9 204.4 2484.0 206.6 2485.0C208.8 2486.0 210.8 2487.6 215.0 2488.0C219.2 2488.4 232.4 2488.8 236.0 2488.0C239.6 2487.2 238.8 2485.0 240.0 2482.5C241.2 2480.0 242.8 2473.7 244.3 2470.7C245.8 2467.7 248.5 2463.8 250.2 2461.3C251.9 2458.8 254.3 2455.5 256.0 2453.0C257.7 2450.5 260.6 2446.1 262.0 2443.6C263.4 2441.1 264.2 2438.3 265.5 2435.4C266.8 2432.5 270.0 2425.6 271.4 2423.6C272.8 2421.6 273.8 2422.9 275.0 2421.2C276.2 2419.5 277.5 2415.1 279.6 2411.8C281.7 2408.5 287.4 2400.9 290.0 2398.0C292.6 2395.1 294.2 2393.4 298.1 2391.8C302.0 2390.2 310.3 2388.3 317.0 2387.1C323.7 2385.9 338.2 2384.7 345.3 2383.5C352.4 2382.3 360.8 2378.6 366.5 2378.8C372.2 2379.0 380.0 2382.2 385.4 2384.7C390.8 2387.2 398.8 2394.8 404.2 2396.5C409.6 2398.2 418.7 2398.9 423.1 2396.5C427.5 2394.1 431.5 2381.7 434.9 2380.0C438.3 2378.3 442.2 2384.0 446.6 2384.7C451.0 2385.4 461.1 2382.0 465.5 2384.7C469.9 2387.4 473.9 2396.2 477.3 2403.6C480.7 2411.0 485.7 2428.9 489.1 2436.6C492.5 2444.3 497.2 2453.1 500.9 2457.8C504.6 2462.5 510.3 2467.2 515.0 2469.6C519.7 2472.0 528.2 2473.6 533.9 2474.3C539.6 2475.0 550.4 2475.3 555.1 2474.3C559.8 2473.3 563.9 2470.6 566.9 2467.2C569.9 2463.8 574.4 2456.0 576.3 2450.7C578.2 2445.4 578.1 2436.0 580.0 2430.0C581.9 2424.0 586.4 2412.7 589.4 2408.8C592.4 2404.9 597.8 2402.6 601.2 2402.9C604.6 2403.2 609.6 2405.9 613.0 2411.1C616.4 2416.3 621.1 2434.0 624.8 2439.4C628.5 2444.8 635.5 2448.9 638.9 2448.9C642.3 2448.9 645.7 2446.1 648.4 2439.4C651.1 2432.7 654.8 2410.1 657.8 2401.7C660.8 2393.3 665.9 2384.0 669.6 2380.5C673.3 2377.0 679.7 2375.7 683.7 2377.0C687.7 2378.3 693.9 2385.9 697.9 2389.9C701.9 2393.9 708.3 2404.5 712.0 2405.2C715.7 2405.9 720.4 2397.3 723.8 2394.6C727.2 2391.9 731.9 2385.0 735.6 2386.4C739.3 2387.8 745.7 2399.9 749.7 2404.1C753.7 2408.3 759.5 2412.9 763.9 2415.9C768.3 2418.9 776.0 2423.6 780.4 2425.3C784.8 2427.0 790.1 2428.9 794.5 2427.6C798.9 2426.3 805.9 2418.3 811.0 2415.9C816.1 2413.5 825.5 2410.8 829.9 2411.1C834.3 2411.4 838.2 2419.2 841.6 2418.2C845.0 2417.2 849.7 2409.8 853.4 2404.1C857.1 2398.4 863.6 2382.6 867.6 2378.1C871.6 2373.6 877.0 2374.0 881.7 2372.3C886.4 2370.6 896.2 2365.1 900.6 2366.3C905.0 2367.5 908.7 2376.5 912.4 2380.5C916.1 2384.5 921.8 2393.6 926.5 2394.6C931.2 2395.6 940.9 2392.6 945.3 2387.6C949.7 2382.6 953.7 2366.0 957.1 2359.3C960.5 2352.6 965.6 2343.6 968.9 2340.4C972.2 2337.2 977.8 2336.4 980.0 2337.0C982.2 2337.6 981.7 2341.2 984.4 2344.6C987.1 2348.0 993.5 2358.7 998.6 2361.1C1003.7 2363.5 1015.1 2358.7 1019.8 2361.1C1024.5 2363.5 1027.9 2375.9 1031.6 2377.6C1035.3 2379.3 1042.0 2370.9 1045.7 2372.9C1049.4 2374.9 1053.8 2388.4 1057.5 2391.8C1061.2 2395.2 1066.9 2395.3 1071.6 2396.5C1076.3 2397.7 1085.4 2397.0 1090.5 2400.0C1095.6 2403.0 1103.0 2416.5 1107.0 2417.7C1111.0 2418.9 1116.1 2417.7 1118.8 2408.3C1121.5 2398.9 1123.2 2369.2 1125.9 2351.7C1128.6 2334.2 1134.2 2298.8 1137.6 2285.7C1141.0 2272.6 1146.0 2260.5 1149.4 2259.8C1152.8 2259.1 1157.8 2275.3 1161.2 2281.0C1164.6 2286.7 1170.0 2299.9 1173.0 2299.9C1176.0 2299.9 1179.7 2291.4 1182.4 2281.0C1185.1 2270.6 1189.5 2240.9 1191.9 2226.8C1194.3 2212.7 1197.5 2190.8 1198.9 2182.0C1200.3 2173.2 1200.4 2172.8 1201.8 2165.4C1203.2 2158.0 1206.9 2139.4 1208.9 2130.0C1210.9 2120.6 1212.9 2106.8 1215.9 2099.4C1218.9 2092.0 1226.7 2085.5 1230.1 2078.1C1233.5 2070.7 1236.8 2056.9 1239.5 2047.5C1242.2 2038.1 1245.9 2021.2 1248.9 2012.1C1251.9 2003.0 1257.7 1994.0 1260.7 1983.9C1263.7 1973.8 1267.4 1953.5 1270.1 1941.4C1272.8 1929.3 1276.9 1910.8 1279.6 1899.0C1282.3 1887.2 1286.3 1868.7 1289.0 1858.9C1291.7 1849.1 1295.7 1838.8 1298.4 1830.6C1301.1 1822.4 1304.8 1808.4 1308.2 1801.6C1311.6 1794.8 1318.0 1790.2 1321.9 1783.3C1325.8 1776.4 1332.4 1762.7 1335.7 1753.5C1339.0 1744.3 1342.8 1729.0 1344.8 1719.2C1346.8 1709.4 1347.8 1692.3 1349.4 1684.8C1351.0 1677.3 1354.3 1669.8 1356.3 1666.5C1358.3 1663.2 1360.9 1661.7 1363.2 1662.0C1365.5 1662.3 1370.3 1665.2 1372.3 1668.8C1374.3 1672.4 1375.9 1679.9 1376.9 1687.1C1377.9 1694.3 1378.2 1711.3 1379.2 1719.2C1380.2 1727.1 1382.5 1734.6 1383.8 1742.1C1385.1 1749.6 1386.7 1765.6 1388.3 1771.8C1389.9 1778.0 1392.9 1783.0 1395.2 1785.6C1397.5 1788.2 1402.7 1788.1 1404.4 1790.2C1406.1 1792.3 1405.2 1788.5 1406.9 1800.0C1408.6 1811.5 1414.3 1855.5 1416.3 1870.7C1418.3 1885.9 1419.7 1894.3 1421.0 1906.1C1422.3 1917.9 1424.4 1941.4 1425.7 1953.2C1427.0 1965.0 1429.4 1978.5 1430.4 1988.6C1431.4 1998.7 1431.1 2013.8 1432.8 2023.9C1434.5 2034.0 1439.8 2048.2 1442.2 2059.3C1444.6 2070.4 1447.3 2088.7 1449.3 2101.7C1451.3 2114.7 1454.3 2137.2 1456.5 2150.0C1458.7 2162.8 1462.0 2179.4 1464.7 2191.2C1467.4 2203.0 1471.9 2220.7 1475.1 2232.5C1478.3 2244.3 1484.2 2263.4 1487.4 2273.7C1490.6 2284.0 1494.5 2295.9 1497.7 2304.7C1500.9 2313.5 1506.6 2328.5 1510.1 2335.6C1513.6 2342.7 1519.0 2350.4 1522.5 2354.2C1526.0 2358.0 1531.7 2362.7 1534.9 2362.4C1538.1 2362.1 1542.3 2355.9 1545.2 2352.1C1548.1 2348.3 1552.6 2337.7 1555.5 2335.6C1558.4 2333.5 1563.1 2335.3 1565.8 2337.7C1568.5 2340.1 1571.7 2345.6 1574.1 2352.1C1576.5 2358.6 1579.7 2373.7 1582.3 2383.1C1584.9 2392.5 1589.7 2410.2 1592.6 2418.1C1595.5 2426.0 1599.7 2434.9 1602.9 2438.7C1606.1 2442.5 1612.1 2444.9 1615.3 2444.9C1618.5 2444.9 1622.7 2440.2 1625.6 2438.7C1628.5 2437.2 1632.7 2434.0 1635.9 2434.6C1639.1 2435.2 1643.9 2441.1 1648.3 2442.9C1652.7 2444.7 1660.4 2446.1 1666.9 2447.0C1673.4 2447.9 1686.9 2447.9 1693.7 2449.1C1700.5 2450.3 1708.4 2454.3 1714.3 2455.2C1720.2 2456.1 1730.5 2456.4 1734.9 2455.2C1739.3 2454.0 1742.8 2452.3 1745.2 2447.0C1747.6 2441.7 1749.3 2423.7 1751.4 2418.1C1753.5 2412.5 1757.0 2408.2 1759.7 2407.8C1762.4 2407.4 1766.8 2413.1 1770.0 2415.0C1773.2 2416.9 1778.5 2421.2 1781.9 2421.4C1785.3 2421.6 1790.1 2418.1 1793.8 2416.7C1797.5 2415.3 1803.7 2414.6 1808.1 2411.9C1812.5 2409.2 1820.4 2401.7 1824.8 2397.6C1829.2 2393.5 1835.3 2387.0 1839.0 2383.3C1842.7 2379.6 1847.3 2375.5 1851.0 2371.4C1854.7 2367.3 1862.1 2358.9 1865.2 2354.8C1868.3 2350.7 1869.0 2344.8 1872.4 2342.9C1875.8 2341.0 1885.3 2344.1 1889.0 2341.7C1892.7 2339.3 1896.9 2331.1 1898.6 2326.2C1900.3 2321.3 1900.0 2314.9 1901.0 2307.1C1902.0 2299.3 1904.3 2281.6 1905.7 2271.4C1907.1 2261.2 1909.1 2244.2 1910.5 2235.7C1911.9 2227.2 1913.5 2216.0 1915.2 2211.9C1916.9 2207.8 1917.3 2207.4 1922.4 2207.1C1927.5 2206.8 1945.6 2210.9 1951.0 2209.5C1956.4 2208.1 1957.1 2201.7 1960.5 2197.6C1963.9 2193.5 1971.1 2185.8 1974.8 2181.0C1978.5 2176.2 1984.0 2169.4 1986.7 2164.3C1989.4 2159.2 1991.8 2151.3 1993.8 2145.2C1995.8 2139.1 1999.0 2126.8 2001.0 2121.4C2003.0 2116.0 2005.5 2110.2 2008.1 2107.1C2010.7 2104.0 2017.4 2101.0 2019.0 2100.0" stroke="#0c1f3e"/>
<path d="M187.7 2470.7C189.0 2472.9 188.8 2483.8 197.1 2486.0C205.4 2488.2 238.3 2486.5 245.5 2486.0C252.7 2485.5 246.3 2484.7 247.8 2482.5C249.3 2480.3 253.8 2474.9 256.0 2470.7C258.2 2466.5 261.4 2456.4 263.1 2453.0C264.8 2449.6 266.5 2449.5 267.9 2447.0C269.3 2444.5 271.6 2439.6 272.6 2435.4C273.6 2431.2 273.5 2422.3 275.0 2417.7C276.5 2413.1 280.9 2406.9 283.2 2403.5C285.5 2400.1 286.3 2396.3 291.1 2394.0C295.9 2391.7 308.6 2388.9 317.0 2387.1C325.4 2385.3 341.9 2381.9 350.0 2381.2C358.1 2380.5 366.9 2380.9 373.6 2382.4C380.3 2383.9 390.0 2390.1 397.1 2391.8C404.2 2393.5 417.4 2396.3 423.1 2394.1C428.8 2391.9 431.5 2378.5 437.2 2376.5C442.9 2374.5 457.7 2378.2 463.1 2380.0C468.5 2381.8 471.2 2383.3 474.9 2389.4C478.6 2395.5 485.1 2414.0 489.1 2422.4C493.1 2430.8 498.8 2443.0 503.2 2448.4C507.6 2453.8 514.6 2457.4 519.7 2460.1C524.8 2462.8 533.2 2465.8 538.6 2467.2C544.0 2468.6 552.7 2470.6 557.4 2469.6C562.1 2468.6 568.4 2462.4 571.6 2460.1C574.8 2457.8 577.5 2459.6 580.0 2453.6C582.5 2447.6 586.4 2423.9 589.4 2418.2C592.4 2412.5 597.8 2412.8 601.2 2413.5C604.6 2414.2 609.3 2417.5 613.0 2422.9C616.7 2428.3 623.1 2446.1 627.1 2451.2C631.1 2456.3 637.9 2459.0 641.3 2458.3C644.7 2457.6 648.0 2451.9 650.7 2446.5C653.4 2441.1 656.7 2427.3 660.1 2420.6C663.5 2413.9 670.3 2401.4 674.3 2399.4C678.3 2397.4 684.7 2403.4 688.4 2406.4C692.1 2409.4 696.5 2416.9 700.2 2420.6C703.9 2424.3 710.7 2432.3 714.4 2432.3C718.1 2432.3 722.7 2423.6 726.1 2420.6C729.5 2417.6 734.5 2410.4 737.9 2411.1C741.3 2411.8 746.3 2420.9 749.7 2425.3C753.1 2429.7 757.1 2438.1 761.5 2441.8C765.9 2445.5 775.3 2448.5 780.4 2451.2C785.5 2453.9 791.2 2458.9 796.9 2460.6C802.6 2462.3 815.4 2463.7 820.4 2463.0C825.4 2462.3 828.8 2456.6 832.2 2455.9C835.6 2455.2 840.6 2461.3 844.0 2458.3C847.4 2455.3 852.1 2442.1 855.8 2434.7C859.5 2427.3 865.5 2411.1 869.9 2406.4C874.3 2401.7 881.7 2402.7 886.4 2401.7C891.1 2400.7 898.9 2398.1 902.9 2399.4C906.9 2400.7 911.0 2408.4 914.7 2411.1C918.4 2413.8 924.5 2418.5 928.9 2418.2C933.3 2417.9 941.3 2413.5 945.3 2408.8C949.3 2404.1 953.7 2390.9 957.1 2385.2C960.5 2379.5 965.6 2371.4 968.9 2368.7C972.2 2366.0 976.4 2364.0 980.0 2366.0C983.6 2368.0 988.6 2379.7 993.9 2382.4C999.2 2385.1 1011.7 2381.3 1017.4 2384.7C1023.1 2388.1 1029.9 2404.6 1033.9 2405.9C1037.9 2407.2 1042.7 2392.7 1045.7 2394.1C1048.7 2395.5 1051.1 2412.7 1055.1 2415.4C1059.1 2418.1 1068.6 2414.7 1074.0 2413.0C1079.4 2411.3 1086.8 2404.9 1092.9 2403.6C1099.0 2402.3 1111.4 2407.6 1116.4 2403.6C1121.4 2399.6 1125.5 2387.1 1128.2 2375.3C1130.9 2363.5 1132.6 2332.6 1135.3 2321.1C1138.0 2309.6 1143.4 2296.5 1147.1 2295.1C1150.8 2293.7 1157.2 2307.2 1161.2 2311.6C1165.2 2316.0 1172.0 2329.5 1175.4 2325.8C1178.8 2322.1 1182.1 2295.5 1184.8 2285.7C1187.5 2275.9 1191.8 2267.5 1194.2 2257.4C1196.6 2247.3 1199.5 2223.2 1201.3 2215.0C1203.1 2206.8 1204.7 2205.4 1206.5 2200.0C1208.3 2194.6 1209.9 2183.1 1213.6 2177.1C1217.3 2171.1 1228.4 2165.0 1232.4 2158.3C1236.4 2151.6 1238.9 2136.7 1241.9 2130.0C1244.9 2123.3 1249.9 2117.8 1253.6 2111.1C1257.3 2104.4 1264.8 2091.0 1267.8 2082.9C1270.8 2074.8 1272.2 2061.7 1274.9 2054.6C1277.6 2047.5 1283.2 2039.5 1286.6 2033.4C1290.0 2027.3 1295.7 2017.2 1298.4 2012.1C1301.1 2007.0 1302.5 2001.4 1305.5 1998.0C1308.5 1994.6 1315.6 1992.6 1319.6 1988.6C1323.6 1984.6 1330.4 1976.4 1333.8 1969.7C1337.2 1963.0 1340.5 1950.2 1343.2 1941.4C1345.9 1932.6 1349.9 1914.3 1352.6 1908.4C1355.3 1902.5 1359.1 1900.2 1362.1 1900.2C1365.1 1900.2 1371.2 1904.2 1373.9 1908.4C1376.6 1912.6 1378.9 1922.2 1380.9 1929.6C1382.9 1937.0 1385.6 1954.9 1388.0 1960.3C1390.4 1965.7 1395.0 1966.4 1397.4 1967.4C1399.8 1968.4 1402.5 1964.4 1404.5 1967.4C1406.5 1970.4 1409.6 1978.8 1411.6 1988.6C1413.6 1998.4 1416.6 2023.9 1418.6 2035.7C1420.6 2047.5 1423.7 2061.0 1425.7 2071.1C1427.7 2081.2 1430.8 2096.6 1432.8 2106.4C1434.8 2116.2 1437.2 2127.9 1440.0 2140.0C1442.8 2152.1 1448.9 2176.8 1452.4 2191.2C1455.9 2205.6 1460.6 2225.4 1464.7 2240.7C1468.8 2256.0 1477.1 2285.5 1481.2 2298.5C1485.3 2311.5 1489.8 2323.3 1493.6 2331.5C1497.4 2339.7 1504.0 2349.7 1508.1 2356.2C1512.2 2362.7 1518.4 2372.2 1522.5 2376.9C1526.6 2381.6 1533.1 2388.3 1536.9 2389.2C1540.7 2390.1 1545.8 2384.9 1549.3 2383.1C1552.8 2381.3 1558.5 2375.7 1561.7 2376.9C1564.9 2378.1 1569.1 2386.0 1572.0 2391.3C1574.9 2396.6 1578.8 2407.2 1582.3 2414.0C1585.8 2420.8 1592.6 2433.7 1596.7 2438.7C1600.8 2443.7 1607.7 2448.2 1611.2 2449.1C1614.7 2450.0 1618.6 2446.1 1621.5 2444.9C1624.4 2443.7 1627.7 2440.5 1631.8 2440.8C1635.9 2441.1 1643.9 2445.5 1650.4 2447.0C1656.9 2448.5 1669.0 2449.9 1677.2 2451.1C1685.4 2452.3 1700.1 2454.6 1708.1 2455.2C1716.1 2455.8 1727.6 2456.4 1732.9 2455.2C1738.2 2454.0 1742.6 2451.4 1745.2 2447.0C1747.8 2442.6 1749.3 2429.0 1751.4 2424.3C1753.5 2419.6 1757.0 2413.5 1759.7 2414.0C1762.4 2414.5 1766.5 2425.2 1770.0 2428.0C1773.5 2430.8 1779.2 2433.2 1784.3 2433.3C1789.4 2433.4 1800.3 2430.6 1805.7 2428.6C1811.1 2426.6 1817.6 2422.1 1822.4 2419.0C1827.2 2415.9 1833.2 2410.8 1839.0 2407.1C1844.8 2403.4 1858.1 2397.3 1862.9 2392.9C1867.7 2388.5 1868.3 2378.2 1872.4 2376.2C1876.5 2374.2 1887.7 2380.0 1891.4 2378.6C1895.1 2377.2 1896.9 2371.8 1898.6 2366.7C1900.3 2361.6 1901.9 2350.4 1903.3 2342.9C1904.7 2335.4 1906.7 2321.4 1908.1 2314.3C1909.5 2307.2 1911.2 2297.0 1912.9 2292.9C1914.6 2288.8 1915.6 2285.7 1920.0 2285.7C1924.4 2285.7 1938.0 2292.6 1943.8 2292.9C1949.6 2293.2 1957.1 2290.5 1960.5 2288.1C1963.9 2285.7 1964.2 2279.3 1967.6 2276.2C1971.0 2273.1 1980.6 2269.4 1984.3 2266.7C1988.0 2264.0 1991.4 2260.8 1993.8 2257.1C1996.2 2253.4 1999.0 2245.3 2001.0 2240.5C2003.0 2235.7 2005.5 2226.9 2008.1 2223.8C2010.7 2220.7 2017.4 2219.7 2019.0 2219.0" stroke="#e46c08"/>
<path d="M187.4 2450.7C191.1 2448.3 208.3 2439.6 213.3 2434.2C218.3 2428.8 219.0 2419.7 222.7 2413.0C226.4 2406.3 233.8 2390.8 239.2 2387.1C244.6 2383.4 254.0 2389.5 260.4 2387.1C266.8 2384.7 278.6 2374.6 284.0 2370.6C289.4 2366.6 294.1 2363.5 298.1 2358.8C302.1 2354.1 308.3 2344.7 312.3 2337.6C316.3 2330.5 323.0 2315.7 326.4 2309.3C329.8 2302.9 332.9 2300.9 335.9 2292.8C338.9 2284.7 344.6 2261.8 347.6 2252.7C350.6 2243.6 353.7 2235.5 357.1 2229.1C360.5 2222.7 366.8 2212.1 371.2 2207.9C375.6 2203.7 383.7 2200.7 387.7 2199.7C391.7 2198.7 394.4 2199.1 399.5 2200.9C404.6 2202.7 417.4 2213.3 423.1 2212.6C428.8 2211.9 435.2 2199.1 439.6 2196.1C444.0 2193.1 450.0 2193.2 453.7 2191.4C457.4 2189.6 462.1 2182.4 465.5 2183.2C468.9 2184.0 473.9 2195.1 477.3 2197.3C480.7 2199.5 485.7 2194.0 489.1 2198.5C492.5 2203.0 497.5 2221.7 500.9 2229.1C504.3 2236.5 508.9 2246.0 512.6 2250.4C516.3 2254.8 523.4 2259.5 526.8 2259.8C530.2 2260.1 533.7 2255.7 536.2 2252.7C538.7 2249.7 542.1 2237.3 544.5 2238.6C546.9 2239.9 550.2 2253.0 552.7 2262.1C555.2 2271.2 559.1 2293.4 562.1 2302.2C565.1 2311.0 571.3 2320.6 573.9 2323.4C576.5 2326.2 577.4 2324.6 580.0 2321.6C582.6 2318.6 588.4 2304.7 591.8 2302.7C595.2 2300.7 600.2 2302.0 603.6 2307.4C607.0 2312.8 612.0 2329.6 615.4 2340.4C618.8 2351.2 623.7 2376.5 627.1 2382.9C630.5 2389.3 635.9 2390.3 638.9 2385.2C641.9 2380.1 646.0 2361.3 648.4 2347.5C650.8 2333.7 653.0 2301.7 655.4 2288.6C657.8 2275.5 661.5 2260.7 664.9 2255.6C668.3 2250.5 675.0 2250.8 679.0 2253.2C683.0 2255.6 689.4 2267.0 693.1 2272.1C696.8 2277.2 701.5 2288.3 704.9 2288.6C708.3 2288.9 713.3 2280.5 716.7 2274.4C720.1 2268.3 725.5 2252.0 728.5 2246.1C731.5 2240.2 734.9 2232.5 737.9 2233.2C740.9 2233.9 746.0 2246.7 749.7 2250.9C753.4 2255.1 759.9 2258.6 763.9 2262.6C767.9 2266.6 774.6 2276.6 778.0 2279.1C781.4 2281.6 783.7 2282.5 787.4 2280.3C791.1 2278.1 798.8 2265.0 803.9 2263.8C809.0 2262.6 818.4 2267.6 822.8 2272.1C827.2 2276.6 831.2 2290.4 834.6 2295.6C838.0 2300.8 842.7 2307.6 846.4 2308.6C850.1 2309.6 856.1 2306.4 860.5 2302.7C864.9 2299.0 871.9 2285.9 877.0 2282.7C882.1 2279.5 891.5 2278.5 895.9 2280.3C900.3 2282.1 904.2 2288.4 907.6 2295.6C911.0 2302.8 916.0 2324.4 919.4 2331.0C922.8 2337.6 927.5 2342.3 931.2 2341.6C934.9 2340.9 941.3 2333.9 945.3 2326.3C949.3 2318.7 955.8 2297.0 959.5 2288.6C963.2 2280.2 968.4 2271.1 971.3 2267.4C974.2 2263.7 976.8 2262.7 980.0 2263.0C983.2 2263.3 989.2 2270.7 993.9 2269.2C998.6 2267.7 1007.7 2255.1 1012.7 2252.7C1017.7 2250.3 1024.5 2249.3 1029.2 2252.7C1033.9 2256.1 1041.3 2267.9 1045.7 2276.3C1050.1 2284.7 1055.5 2300.8 1059.9 2311.6C1064.3 2322.4 1072.0 2340.9 1076.4 2351.7C1080.8 2362.5 1086.8 2380.4 1090.5 2387.1C1094.2 2393.8 1098.6 2401.9 1102.3 2398.9C1106.0 2395.9 1113.0 2378.7 1116.4 2365.9C1119.8 2353.1 1123.2 2326.8 1125.9 2309.3C1128.6 2291.8 1131.9 2256.8 1135.3 2243.3C1138.7 2229.8 1144.7 2216.3 1149.4 2215.0C1154.1 2213.7 1164.3 2233.2 1168.3 2233.9C1172.3 2234.6 1175.3 2228.1 1177.7 2219.7C1180.1 2211.3 1183.0 2183.4 1184.8 2174.9C1186.6 2166.4 1188.9 2166.4 1190.0 2160.0C1191.1 2153.6 1191.1 2142.7 1192.4 2130.0C1193.7 2117.3 1197.4 2086.3 1199.4 2071.1C1201.4 2055.9 1204.1 2037.4 1206.5 2023.9C1208.9 2010.4 1213.2 1989.3 1215.9 1976.8C1218.6 1964.3 1222.4 1945.8 1225.4 1936.7C1228.4 1927.6 1233.7 1919.8 1237.1 1913.1C1240.5 1906.4 1244.5 1899.0 1248.9 1889.6C1253.3 1880.2 1263.8 1859.9 1267.8 1847.1C1271.8 1834.3 1274.0 1816.6 1277.2 1800.0C1280.4 1783.4 1287.1 1748.7 1289.9 1730.6C1292.7 1712.5 1294.8 1688.1 1296.8 1673.4C1298.8 1658.7 1301.6 1640.7 1303.6 1627.6C1305.6 1614.5 1308.5 1595.5 1310.5 1581.8C1312.5 1568.1 1315.1 1546.2 1317.4 1531.5C1319.7 1516.8 1323.9 1492.9 1326.5 1478.8C1329.1 1464.7 1333.1 1442.5 1335.7 1433.0C1338.3 1423.5 1342.2 1413.4 1344.8 1412.4C1347.4 1411.4 1351.7 1418.3 1354.0 1426.2C1356.3 1434.1 1358.6 1453.3 1360.9 1467.4C1363.2 1481.5 1367.7 1508.3 1370.0 1524.6C1372.3 1540.9 1374.9 1565.4 1376.9 1581.8C1378.9 1598.2 1381.8 1624.4 1383.8 1639.1C1385.8 1653.8 1388.3 1671.7 1390.6 1684.8C1392.9 1697.9 1397.2 1717.5 1399.8 1730.6C1402.4 1743.7 1406.9 1766.5 1408.9 1776.4C1410.9 1786.3 1411.5 1783.2 1413.9 1800.0C1416.3 1816.8 1422.7 1870.7 1425.7 1894.3C1428.7 1917.9 1432.4 1946.5 1435.1 1965.0C1437.8 1983.5 1441.9 2007.1 1444.6 2023.9C1447.3 2040.7 1451.4 2064.9 1454.0 2082.9C1456.6 2100.9 1460.0 2131.6 1462.7 2150.0C1465.4 2168.4 1470.4 2194.2 1473.0 2211.9C1475.6 2229.6 1478.5 2259.0 1481.2 2273.7C1483.9 2288.4 1488.6 2305.6 1491.6 2315.0C1494.6 2324.4 1499.0 2332.3 1501.9 2339.7C1504.8 2347.1 1508.7 2359.8 1512.2 2366.6C1515.7 2373.4 1522.8 2384.3 1526.6 2387.2C1530.4 2390.1 1535.8 2391.6 1539.0 2387.2C1542.2 2382.8 1546.4 2361.8 1549.3 2356.2C1552.2 2350.6 1556.9 2348.0 1559.6 2348.0C1562.3 2348.0 1565.5 2349.1 1567.9 2356.2C1570.3 2363.3 1573.2 2387.2 1576.1 2397.5C1579.0 2407.8 1585.0 2421.9 1588.5 2428.4C1592.0 2434.9 1597.7 2440.2 1600.9 2442.9C1604.1 2445.6 1608.3 2447.6 1611.2 2447.0C1614.1 2446.4 1619.1 2441.6 1621.5 2438.7C1623.9 2435.8 1624.2 2428.5 1627.7 2426.4C1631.2 2424.3 1641.8 2426.4 1646.2 2424.3C1650.6 2422.2 1654.2 2414.6 1658.6 2411.9C1663.0 2409.2 1672.2 2408.3 1677.2 2405.7C1682.2 2403.1 1688.4 2395.8 1693.7 2393.4C1699.0 2391.0 1709.3 2390.7 1714.3 2389.2C1719.3 2387.7 1724.6 2386.3 1728.7 2383.1C1732.8 2379.9 1740.2 2371.6 1743.2 2366.6C1746.2 2361.6 1747.6 2353.3 1749.4 2348.0C1751.2 2342.7 1753.5 2332.1 1755.6 2329.4C1757.7 2326.7 1761.2 2328.2 1763.8 2329.4C1766.4 2330.6 1771.5 2337.5 1774.1 2337.7C1776.7 2337.9 1779.1 2335.0 1781.9 2331.0C1784.7 2327.0 1790.4 2314.3 1793.8 2309.5C1797.2 2304.7 1802.3 2303.0 1805.7 2297.6C1809.1 2292.2 1814.9 2278.9 1817.6 2271.4C1820.3 2263.9 1822.8 2253.0 1824.8 2245.2C1826.8 2237.4 1829.9 2222.8 1831.9 2216.7C1833.9 2210.6 1836.3 2204.4 1839.0 2202.4C1841.7 2200.4 1847.9 2205.5 1851.0 2202.4C1854.1 2199.3 1857.8 2187.1 1860.5 2181.0C1863.2 2174.9 1866.3 2164.3 1870.0 2159.5C1873.7 2154.7 1883.0 2151.7 1886.7 2147.6C1890.4 2143.5 1893.8 2138.1 1896.2 2131.0C1898.6 2123.9 1900.9 2107.1 1903.3 2097.6C1905.7 2088.1 1910.5 2073.5 1912.9 2064.3C1915.3 2055.1 1917.3 2040.8 1920.0 2033.3C1922.7 2025.8 1927.8 2017.7 1931.9 2011.9C1936.0 2006.1 1944.5 1997.3 1948.6 1992.9C1952.7 1988.5 1957.5 1984.7 1960.5 1981.0C1963.5 1977.3 1967.3 1970.9 1969.7 1966.7C1972.1 1962.5 1975.6 1956.4 1977.4 1951.3C1979.2 1946.2 1980.9 1935.2 1982.6 1930.8C1984.3 1926.4 1987.4 1923.8 1989.0 1920.5C1990.6 1917.2 1992.5 1911.4 1994.1 1907.7C1995.7 1904.0 1998.7 1898.9 2000.5 1894.9C2002.3 1890.9 2005.1 1884.3 2006.9 1879.5C2008.7 1874.7 2011.5 1864.8 2013.3 1861.5C2015.1 1858.2 2018.8 1857.1 2019.7 1856.4" stroke="#ff0000"/>
</g>
<g fill="none" stroke-linejoin="round">
<path d="M240.6 1533.0L240.6 2370.6" stroke="#555" stroke-width="5"/>
<path d="M402.5 1533.0L392.0 1576.0L392.0 2181.0" stroke="#444" stroke-width="8"/>
<path d="M464.8 1533.0L465.0 2165.5" stroke="#111" stroke-width="6"/>
<path d="M592.4 1533.0L592.4 2284.0" stroke="#000" stroke-width="6"/>
<path d="M670.4 1533.0L670.4 2231.0" stroke="#000" stroke-width="5"/>
<path d="M724.0 1533.0L737.0 1578.0L737.0 2215.5" stroke="#111" stroke-width="6"/>
<path d="M805.0 1533.0L805.0 2245.0" stroke="#000" stroke-width="6"/>
<path d="M894.2 1533.0L894.2 2262.6" stroke="#000" stroke-width="6"/>
<path d="M978.0 1533.0L978.0 2245.6" stroke="#000" stroke-width="4"/>
<path d="M1038.0 1533.0L1020.5 1580.0L1020.5 2230.3" stroke="#111" stroke-width="6"/>
<path d="M1102.8 1540.6L1053.0 1652.5L1053.0 2342.3" stroke="#111" stroke-width="6"/>
<path d="M1147.8 1533.0L1147.8 2195.0" stroke="#000" stroke-width="4"/>
<path d="M1346.5 1394.0L1346.5 1588.7" stroke="#111" stroke-width="5"/>
<path d="M1560.7 1515.5L1560.7 2329.4" stroke="#000" stroke-width="4"/>
<path d="M1637.0 1515.5L1637.0 2407.8" stroke="#000" stroke-width="6"/>
<path d="M1759.1 1515.5L1759.1 2309.8" stroke="#333" stroke-width="7"/>
<path d="M1843.2 1515.5L1843.2 2188.1" stroke="#222" stroke-width="6"/>
<path d="M1949.2 1515.5L1949.2 1975.6" stroke="#000" stroke-width="4"/>
</g>
<rect x="189" y="1326" width="1830" height="1161" fill="none" stroke="#000" stroke-width="5"/>
<rect x="183" y="1323" width="4" height="1172" fill="#666"/>
<rect x="183" y="2489.5" width="1836" height="5.5" fill="#6a6a6a"/>
<path d="M187.7 2470.7L197.1 2486L245.5 2486L247.8 2482.5" fill="none" stroke="#e46c08" stroke-width="5.8" stroke-linejoin="round"/>
<rect x="197" y="2489.5" width="48.5" height="5.5" fill="#f0b27e"/>
<g stroke="#111" stroke-width="4">
<line x1="168" y1="2448.0" x2="187" y2="2448.0"/>
<line x1="168" y1="2230.0" x2="187" y2="2230.0"/>
<line x1="168" y1="2012.0" x2="187" y2="2012.0"/>
<line x1="168" y1="1794.0" x2="187" y2="1794.0"/>
<line x1="168" y1="1576.0" x2="187" y2="1576.0"/>
<line x1="168" y1="1358.0" x2="187" y2="1358.0"/>
<line x1="452.0" y1="2489" x2="452.0" y2="2506" stroke-width="5"/>
<line x1="768.7" y1="2489" x2="768.7" y2="2506" stroke-width="5"/>
<line x1="1083.0" y1="2489" x2="1083.0" y2="2506" stroke-width="5"/>
<line x1="1396.0" y1="2489" x2="1396.0" y2="2506" stroke-width="5"/>
<line x1="1712.0" y1="2489" x2="1712.0" y2="2506" stroke-width="5"/>
</g>
<g font-family="Liberation Serif, serif" font-weight="bold" font-size="36" fill="#3a3a3a">
<text x="154" y="2467.0" text-anchor="end" textLength="74" lengthAdjust="spacingAndGlyphs">0.00</text>
<text x="154" y="2249.0" text-anchor="end" textLength="74" lengthAdjust="spacingAndGlyphs">0.05</text>
<text x="154" y="2031.0" text-anchor="end" textLength="74" lengthAdjust="spacingAndGlyphs">0.10</text>
<text x="154" y="1813.0" text-anchor="end" textLength="74" lengthAdjust="spacingAndGlyphs">0.15</text>
<text x="154" y="1595.0" text-anchor="end" textLength="74" lengthAdjust="spacingAndGlyphs">0.20</text>
<text x="154" y="1377.0" text-anchor="end" textLength="74" lengthAdjust="spacingAndGlyphs">0.25</text>
<text x="407.5" y="2543" textLength="77" lengthAdjust="spacingAndGlyphs">1600</text>
<text x="724.2" y="2543" textLength="77" lengthAdjust="spacingAndGlyphs">1400</text>
<text x="1038.5" y="2543" textLength="77" lengthAdjust="spacingAndGlyphs">1200</text>
<text x="1351.5" y="2543" textLength="77" lengthAdjust="spacingAndGlyphs">1000</text>
<text x="1677.0" y="2543" textLength="58" lengthAdjust="spacingAndGlyphs">800</text>
</g>
<text x="984" y="2610" font-family="Liberation Serif, serif" font-size="58" textLength="302" lengthAdjust="spacingAndGlyphs" fill="#333">Wavenumbers</text>
<text transform="translate(70 2029) rotate(-90)" font-family="Liberation Serif, serif" font-size="58" textLength="249" lengthAdjust="spacingAndGlyphs" fill="#333">Absorbance</text>
<text x="287" y="1429" font-family="Liberation Serif, serif" font-weight="bold" font-size="77" textLength="36" lengthAdjust="spacingAndGlyphs" fill="#000">b</text>
<g font-family="Liberation Serif, serif" font-size="38" fill="#585858">
<text transform="translate(256.0 1478.7) rotate(-90)" textLength="67" lengthAdjust="spacingAndGlyphs">1735</text>
<text transform="translate(419.5 1478.7) rotate(-90)" textLength="69" lengthAdjust="spacingAndGlyphs">1639</text>
<text transform="translate(478.4 1478.7) rotate(-90)" textLength="68" lengthAdjust="spacingAndGlyphs">1593</text>
<text transform="translate(608.0 1478.7) rotate(-90)" textLength="68" lengthAdjust="spacingAndGlyphs">1511</text>
<text transform="translate(686.7 1478.7) rotate(-90)" textLength="68" lengthAdjust="spacingAndGlyphs">1462</text>
<text transform="translate(741.3 1481.0) rotate(-90)" textLength="71" lengthAdjust="spacingAndGlyphs">1419</text>
<text transform="translate(826.4 1481.0) rotate(-90)" textLength="71" lengthAdjust="spacingAndGlyphs">1375</text>
<text transform="translate(911.3 1481.0) rotate(-90)" textLength="71" lengthAdjust="spacingAndGlyphs">1320</text>
<text transform="translate(993.8 1481.0) rotate(-90)" textLength="71" lengthAdjust="spacingAndGlyphs">1266</text>
<text transform="translate(1057.1 1481.0) rotate(-90)" textLength="71" lengthAdjust="spacingAndGlyphs">1241</text>
<text transform="translate(1107.8 1481.0) rotate(-90)" textLength="71" lengthAdjust="spacingAndGlyphs">1224</text>
<text transform="translate(1164.7 1481.0) rotate(-90)" textLength="71" lengthAdjust="spacingAndGlyphs">1159</text>
<text transform="translate(1365.4 1686.0) rotate(-90)" textLength="71" lengthAdjust="spacingAndGlyphs">1032</text>
<text transform="translate(1577.2 1467.8) rotate(-90)" textLength="53" lengthAdjust="spacingAndGlyphs">897</text>
<text transform="translate(1651.7 1467.8) rotate(-90)" textLength="55" lengthAdjust="spacingAndGlyphs">849</text>
<text transform="translate(1773.4 1467.8) rotate(-90)" textLength="55" lengthAdjust="spacingAndGlyphs">770</text>
<text transform="translate(1860.0 1467.8) rotate(-90)" textLength="55" lengthAdjust="spacingAndGlyphs">716</text>
<text transform="translate(1967.6 1467.8) rotate(-90)" textLength="55" lengthAdjust="spacingAndGlyphs">648</text>
</g>
</g>
</svg></body></html>
